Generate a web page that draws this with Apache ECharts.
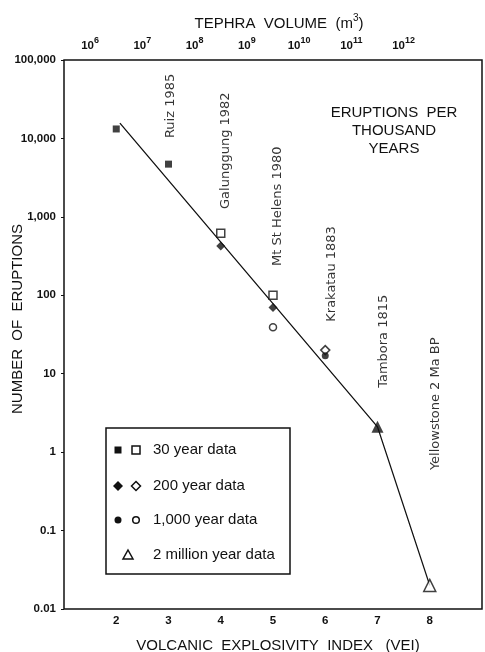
<!DOCTYPE html>
<html>
<head>
<meta charset="utf-8">
<script src="https://cdn.jsdelivr.net/npm/echarts@6/dist/echarts.min.js"></script>
<style>html,body{margin:0;padding:0;background:#fff}#c{width:485px;height:652px}</style>
</head>
<body>
<div id="c"></div>
<script>
// ---- data ----
const veiLabels = [2, 3, 4, 5, 6, 7, 8];
const veiBands = ['1', '2', '3', '4', '5', '6', '7', '8'];
const tephraExponents = ['6', '7', '8', '9', '10', '11', '12', ''];
const yTickLabels = ['0.01', '0.1', '1', '10', '100', '1,000', '10,000', '100,000'];

const data30Filled = [[2, 13200], [3, 4700]];
const data30Open = [[4, 620], [5, 100]];
const data200Filled = [[4, 425], [5, 70]];
const data200Open = [[6, 20]];
const data1000Filled = [[6, 17]];
const data1000Open = [[5, 39]];
const data2MFilled = [[7, 2.1]];
const data2MOpen = [[8, 0.02]];
const fitLine = [[2.07, 15700], [7, 2.1], [8, 0.02]];

const annotationNames = ['Ruiz 1985', 'Galunggung 1982', 'Mt St Helens 1980', 'Krakatau 1883', 'Tambora 1815', 'Yellowstone 2 Ma BP'];
const annotationVEI = [3.05, 4.10, 5.08, 6.12, 7.11, 8.12];
const annotationY = [10100, 1260, 236, 46, 6.6, 0.59];

const legendLabels = ['30 year data', '200 year data', '1,000 year data', '2 million year data'];

// ---- chart ----
const INK = '#111';
const SANS = 'Liberation Sans, Arial, sans-serif';
const chart = echarts.init(document.getElementById('c'));

function filled(symbol, size, data, z) {
  return { type: 'scatter', symbol, symbolSize: size, data, z: z || 3,
    itemStyle: { color: INK }, emphasis: { disabled: true } };
}
function open(symbol, size, data) {
  return { type: 'scatter', symbol, symbolSize: size, data, z: 3,
    itemStyle: { color: '#fff', borderColor: INK, borderWidth: 1.5 }, emphasis: { disabled: true } };
}

const legendX1 = 118, legendX2 = 136, legendText = 153;
const rowsY = [450, 486, 520, 555];

chart.setOption({
  backgroundColor: '#fff',
  animation: false,
  title: [
    { text: '{a|TEPHRA  VOLUME  (m}{s|3}{a|)}', left: 274, top: 8, textAlign: 'center',
      textStyle: { fontWeight: 'normal', rich: {
        a: { fontFamily: SANS, fontSize: 15, fontWeight: 'normal', color: INK, verticalAlign: 'bottom', lineHeight: 18 },
        s: { fontFamily: SANS, fontSize: 10, fontWeight: 'normal', color: INK, verticalAlign: 'top', lineHeight: 18 } } } },
    { text: 'VOLCANIC  EXPLOSIVITY  INDEX   (VEI)', left: 273, top: 633, textAlign: 'center',
      textStyle: { fontFamily: SANS, fontSize: 15, fontWeight: 'normal', color: INK } },
    { text: 'ERUPTIONS  PER\nTHOUSAND\nYEARS', left: 389, top: 99, textAlign: 'center',
      textStyle: { fontFamily: SANS, fontSize: 15, fontWeight: 'normal', color: INK, lineHeight: 18 } }
  ],
  grid: { left: 64, top: 60, width: 420, height: 549, show: true, borderColor: INK, borderWidth: 1.5, backgroundColor: 'transparent' },
  xAxis: [
    { type: 'value', min: 1, max: 9, interval: 1, position: 'bottom',
      axisLine: { show: false }, axisTick: { show: false }, splitLine: { show: false },
      axisLabel: { margin: 6, fontFamily: SANS, fontSize: 11.5, fontWeight: 'bold', color: INK,
        formatter: v => veiLabels.includes(v) ? String(v) : '' } },
    { type: 'category', position: 'top', data: tephraExponents, boundaryGap: true,
      axisLine: { show: false }, splitLine: { show: false },
      axisTick: { alignWithLabel: true, length: 4, interval: (i) => i < 7, lineStyle: { color: INK, width: 1 } },
      axisLabel: { interval: 0, margin: 8,
        formatter: v => v ? '{b|10}{s|' + v + '}' : '',
        rich: {
          b: { fontFamily: SANS, fontSize: 11.5, fontWeight: 'bold', color: INK, verticalAlign: 'bottom', lineHeight: 16 },
          s: { fontFamily: SANS, fontSize: 9, fontWeight: 'bold', color: INK, verticalAlign: 'top', lineHeight: 16 } } } },
    { type: 'category', position: 'bottom', data: veiBands, boundaryGap: true,
      axisLine: { show: false }, splitLine: { show: false },
      axisTick: { alignWithLabel: true, length: 3, interval: (i) => i > 0, lineStyle: { color: INK, width: 1 } },
      axisLabel: { show: false } }
  ],
  yAxis: {
    type: 'log', logBase: 10, min: 0.01, max: 100000,
    axisLine: { show: false }, splitLine: { show: false }, minorTick: { show: false },
    axisTick: { length: 3, lineStyle: { color: INK, width: 1 } },
    axisLabel: { margin: 8, fontFamily: SANS, fontSize: 11.5, fontWeight: 'bold', color: INK,
      formatter: v => yTickLabels[Math.round(Math.log10(v)) + 2] || '' }
  },
  graphic: [
    { type: 'text', x: 18, y: 319, rotation: Math.PI / 2, silent: true,
      style: { text: 'NUMBER  OF  ERUPTIONS', fontFamily: SANS, fontSize: 15, fill: INK, align: 'center', verticalAlign: 'middle' } },
    { type: 'rect', silent: true, shape: { x: 106, y: 428, width: 184, height: 146 },
      style: { fill: '#fff', stroke: INK, lineWidth: 1.5 }, z: 10 },
    { type: 'rect', silent: true, shape: { x: legendX1 - 3.5, y: rowsY[0] - 3.5, width: 7, height: 7 }, style: { fill: INK }, z: 11 },
    { type: 'rect', silent: true, shape: { x: legendX2 - 4, y: rowsY[0] - 4, width: 8, height: 8 }, style: { fill: '#fff', stroke: INK, lineWidth: 1.5 }, z: 11 },
    { type: 'polygon', silent: true, shape: { points: [[legendX1, rowsY[1] - 5], [legendX1 + 5, rowsY[1]], [legendX1, rowsY[1] + 5], [legendX1 - 5, rowsY[1]]] }, style: { fill: INK }, z: 11 },
    { type: 'polygon', silent: true, shape: { points: [[legendX2, rowsY[1] - 4.5], [legendX2 + 4.5, rowsY[1]], [legendX2, rowsY[1] + 4.5], [legendX2 - 4.5, rowsY[1]]] }, style: { fill: '#fff', stroke: INK, lineWidth: 1.5 }, z: 11 },
    { type: 'circle', silent: true, shape: { cx: legendX1, cy: rowsY[2], r: 3.5 }, style: { fill: INK }, z: 11 },
    { type: 'circle', silent: true, shape: { cx: legendX2, cy: rowsY[2], r: 3.3 }, style: { fill: '#fff', stroke: INK, lineWidth: 1.5 }, z: 11 },
    { type: 'polygon', silent: true, shape: { points: [[128, rowsY[3] - 5], [133, rowsY[3] + 4], [123, rowsY[3] + 4]] }, style: { fill: '#fff', stroke: INK, lineWidth: 1.5 }, z: 11 },
    ...legendLabels.map((t, i) => ({ type: 'text', silent: true, x: legendText, y: rowsY[i], z: 11,
      style: { text: t, fontFamily: SANS, fontSize: 15, fill: INK, align: 'left', verticalAlign: 'middle' } }))
  ],
  series: [
    { type: 'line', data: fitLine, symbol: 'none', z: 2, lineStyle: { color: INK, width: 1.3 }, emphasis: { disabled: true } },
    filled('rect', 7, data30Filled),
    open('rect', 8, data30Open),
    filled('diamond', 9, data200Filled),
    open('diamond', 9, data200Open),
    filled('circle', 7, data1000Filled),
    open('circle', 7, data1000Open),
    filled('triangle', 12, data2MFilled),
    open('triangle', 12, data2MOpen),
    { type: 'scatter', symbolSize: 0, z: 4, silent: true,
      data: annotationNames.map((n, i) => ({ name: n, value: [annotationVEI[i], annotationY[i]] })),
      label: { show: true, formatter: '{b}', position: 'inside', rotate: 90, align: 'left', verticalAlign: 'middle',
        fontFamily: 'DejaVu Sans, sans-serif', fontSize: 13, color: '#000' } }
  ]
});
</script>
</body>
</html>
